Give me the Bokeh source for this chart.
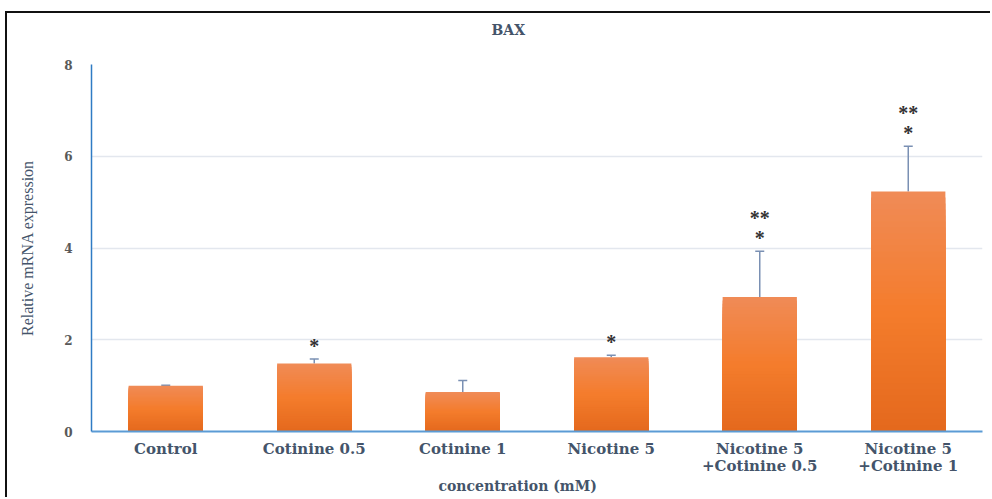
from bokeh.plotting import figure
from bokeh.models import (ColumnDataSource, FactorRange, Whisker, TeeHead, Title,
                          FixedTicker, CustomJSTickFormatter)
from bokeh.core.properties import value
from bokeh.embed import file_html
from bokeh.resources import INLINE

# ---- data ----
categories = ["Control", "Cotinine 0.5", "Cotinine 1", "Nicotine 5",
              "Nicotine 5 +Cotinine 0.5", "Nicotine 5 +Cotinine 1"]
tick_labels = ["Control", "Cotinine 0.5", "Cotinine 1", "Nicotine 5",
               "Nicotine 5\n+Cotinine 0.5", "Nicotine 5\n+Cotinine 1"]
values = [1.00, 1.48, 0.86, 1.62, 2.93, 5.23]
errors = [0.01, 0.10, 0.25, 0.04, 1.00, 0.99]
significance = ["", "*", "", "*", "**\n*", "**\n*"]
y_ticks = [0, 2, 4, 6, 8]

# ---- figure ----
p = figure(x_range=FactorRange(*categories, range_padding=0), y_range=(0, 8),
           width=985, height=486, output_backend="svg", toolbar_location=None,
           min_border_left=84, min_border_right=10, min_border_top=51, min_border_bottom=68,
           margin=(11, 0, 0, 5),
           styles={"border-left": "2px solid #111", "border-top": "2px solid #111"})
p.outline_line_color = None
p.background_fill_color = "white"
p.border_fill_color = "white"

# gradient bars: overlapping stacks, light at top, dark at bottom
def lerp(c1, c2, t):
    a = [int(c1[i:i + 2], 16) for i in (1, 3, 5)]
    b = [int(c2[i:i + 2], 16) for i in (1, 3, 5)]
    return "#%02x%02x%02x" % tuple(round(a[k] + (b[k] - a[k]) * t) for k in range(3))

bottom_c, mid_c, top_c = "#e4691d", "#f47c2c", "#f08b57"
N = 40
xs, tops, cols = [], [], []
for i in range(N - 1, -1, -1):
    f = (i + 0.5) / N
    c = lerp(bottom_c, mid_c, f / 0.5) if f < 0.5 else lerp(mid_c, top_c, (f - 0.5) / 0.5)
    for cat, v in zip(categories, values):
        xs.append(cat)
        tops.append(v * (i + 1) / N)
        cols.append(c)
p.vbar(x=xs, bottom=0, top=tops, width=0.5, fill_color=cols, line_color=None)

src = ColumnDataSource(dict(cat=categories, val=values,
                            upper=[v + e for v, e in zip(values, errors)],
                            sig=significance))
err_col = "#7a90b3"
wh = Whisker(source=src, base="cat", lower="val", upper="upper", dimension="height",
             line_color=err_col, line_width=1.5,
             upper_head=TeeHead(size=9, line_color=err_col, line_width=1.5), lower_head=None)
p.add_layout(wh)

p.text(x="cat", y="upper", text="sig", source=src, text_align="center",
       text_baseline="bottom", y_offset=-2, text_font=value("Liberation Serif"),
       text_font_style="bold", text_font_size="20px", text_color="#333333",
       text_line_height=0.92)

# axes
p.yaxis.ticker = FixedTicker(ticks=y_ticks)
p.yaxis.axis_line_color = "#2f7bc4"
p.yaxis.axis_line_width = 1.5
p.yaxis.major_tick_line_color = None
p.yaxis.minor_tick_line_color = None
p.yaxis.major_label_standoff = 13
p.yaxis.major_label_text_font = "DejaVu Serif"
p.yaxis.major_label_text_font_style = "bold"
p.yaxis.major_label_text_font_size = "12px"
p.yaxis.major_label_text_color = "#595959"
p.yaxis.axis_label = "Relative mRNA expression"
p.yaxis.axis_label_text_font = "Liberation Serif"
p.yaxis.axis_label_text_font_style = "normal"
p.yaxis.axis_label_text_font_size = "16px"
p.yaxis.axis_label_text_color = "#44546a"
p.yaxis.axis_label_standoff = 25

xa = p.xaxis[0]
xa.major_tick_line_color = None
xa.minor_tick_line_color = None
xa.major_label_standoff = 2
xa.major_label_text_font = "DejaVu Serif"
xa.major_label_text_font_style = "bold"
xa.major_label_text_font_size = "15px"
xa.major_label_text_color = "#44546a"
xa.major_label_text_line_height = 0.95
xa.axis_line_color = "#5b9bd5"
xa.axis_line_width = 2
xa.formatter = CustomJSTickFormatter(
    args=dict(cats=categories, labs=tick_labels),
    code="const i = cats.indexOf(tick); return i >= 0 ? labs[i] : tick;")

p.xgrid.grid_line_color = None
p.ygrid.grid_line_color = "#e3e7ee"
p.ygrid.grid_line_width = 1.5

p.title = Title(text="BAX", align="left", offset=400, vertical_align="top",
                text_font="DejaVu Serif", text_font_style="bold", text_font_size="14px",
                text_color="#44546a", standoff=0)
# invisible spacer between the title and the plot area
p.add_layout(Title(text=" ", text_font_size="1px", standoff=22), "above")

p.add_layout(Title(text="concentration (mM)", align="left", offset=347,
                   vertical_align="top", text_font="DejaVu Serif",
                   text_font_style="bold", text_font_size="14px", text_color="#44546a",
                   standoff=0), "below")

open("out.html", "w").write(file_html(p, INLINE))
